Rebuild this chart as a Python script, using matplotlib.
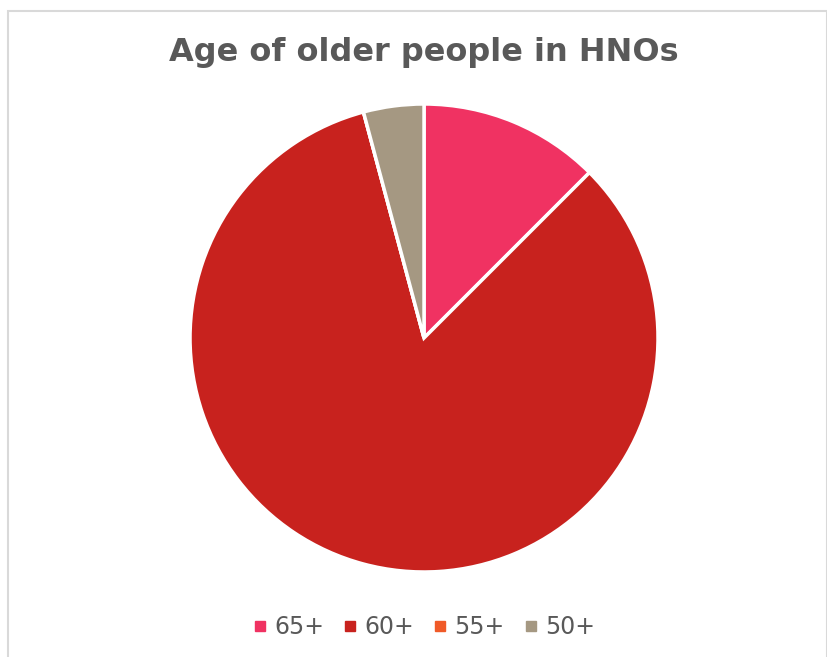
import matplotlib.pyplot as plt
from matplotlib.lines import Line2D
from matplotlib.patches import Rectangle

# age bands and number of HNOs using each
age_groups = ["65+", "60+", "55+", "50+"]
counts = [3, 20, 0, 1]
colors = ["#F03262", "#C8221E", "#F05A28", "#A59882"]

fig = plt.figure(figsize=(8.28, 6.57), dpi=100)
fig.patch.set_facecolor("white")

# light frame around the chart area
fig.patches.append(Rectangle((8 / 828, -0.01), (827 - 8) / 828, 1 - 11 / 657 + 0.01,
                             transform=fig.transFigure, fill=False,
                             edgecolor="#D9D9D9", linewidth=1.5))

ax = fig.add_axes([0.2295, 0.1294, 0.5652, 0.7123])
ax.pie(counts, colors=colors, startangle=90, counterclock=False, radius=1,
       wedgeprops=dict(edgecolor="white", linewidth=2.5))
ax.set_xlim(-1.0, 1.0)
ax.set_ylim(-1.0, 1.0)
ax.set_aspect("equal")
ax.axis("off")

fig.text(0.512, 1 - 52 / 657, "Age of older people in HNOs", ha="center", va="center",
         fontsize=23, fontweight="bold", color="#595959")

handles = [Line2D([], [], linestyle="none", marker="s", markersize=6.5,
                  markerfacecolor=c, markeredgecolor=c) for c in colors]
fig.legend(handles, age_groups, loc="center", bbox_to_anchor=(0.512, 1 - 627 / 657),
           ncol=4, frameon=False, fontsize=17, labelcolor="#595959",
           handlelength=0.6, handletextpad=0.3, columnspacing=0.8)

fig.savefig("out.png", dpi=100, facecolor="white")
